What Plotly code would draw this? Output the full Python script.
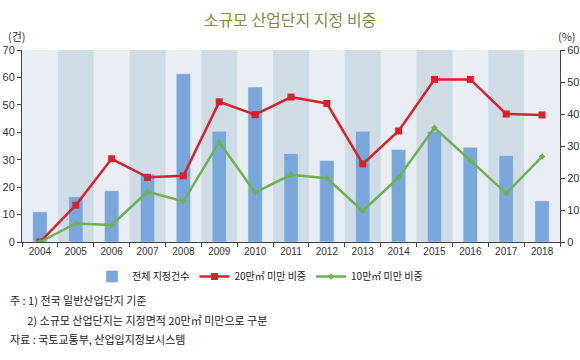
import plotly.graph_objects as go

years = [str(y) for y in range(2004, 2019)]
total_count = [11, 16.5, 18.7, 24.8, 61.3, 40.4, 56.5, 32.3, 29.7, 40.4, 33.7, 40.4, 34.5, 31.5, 15]
share_20 = [0, 11.5, 26, 20.2, 20.7, 43.8, 39.8, 45.3, 43.3, 24.4, 34.7, 50.8, 50.8, 40, 39.7]
share_10 = [0, 5.8, 5.3, 15.7, 12.7, 31.2, 15.5, 21, 19.9, 9.7, 20.2, 35.7, 25.5, 15.2, 26.7]
left_ticks = [0, 10, 20, 30, 40, 50, 60, 70]
right_ticks = [0, 10, 20, 30, 40, 50, 60]

KR = "Noto Sans CJK KR"
NUM = "Liberation Sans"

fig = go.Figure()
fig.add_trace(go.Bar(x=years, y=total_count, name="전체 지정건수", marker_color="#79a7dc",
                     width=0.4, yaxis="y"))
fig.add_trace(go.Scatter(x=years, y=share_20, name="20만㎡ 미만 비중", mode="lines+markers",
                         line=dict(color="#d7222c", width=2.5),
                         marker=dict(symbol="square", size=7, color="#d7222c"), yaxis="y2"))
fig.add_trace(go.Scatter(x=years, y=share_10, name="10만㎡ 미만 비중", mode="lines+markers",
                         line=dict(color="#6db24e", width=2.5),
                         marker=dict(symbol="diamond", size=5, color="#6db24e"), yaxis="y2"))

shapes = []
for i in range(len(years)):
    if i % 2 == 1:
        shapes.append(dict(type="rect", xref="x", yref="paper", x0=i - 0.5, x1=i + 0.5,
                           y0=0, y1=1, fillcolor="#cfdbe5", line_width=0, layer="below"))

PL, PR, PT, PB = 22, 20, 50, 118
PW = 580 - PL - PR
PH = 360 - PT - PB

fig.update_layout(
    width=580, height=360,
    margin=dict(l=PL, r=PR, t=PT, b=PB, autoexpand=False),
    paper_bgcolor="white", plot_bgcolor="#e8eef3",
    shapes=shapes,
    showlegend=True,
    legend=dict(orientation="h", x=(260 - PL) / PW, xanchor="center", y=-(262 - 242) / PH,
                yanchor="top", font=dict(family=KR, size=10, color="#222"), itemwidth=30,
                bgcolor="rgba(0,0,0,0)"),
    title=dict(text="소규모 산업단지 지정 비중", x=0.5, xanchor="center", y=1 - 20 / 360,
               yanchor="middle", font=dict(family=KR, size=16, color="#858a45")),
    font=dict(family=NUM, size=11, color="#333"),
    xaxis=dict(type="category", showgrid=False, showline=True, linecolor="#444", linewidth=1,
               ticks="outside", tickson="boundaries", ticklen=4, tickcolor="#444",
               tickfont=dict(family=NUM, size=10, color="#333"), range=[-0.5, 14.5],
               automargin=False),
    yaxis=dict(range=[0, 70], tickvals=left_ticks, showgrid=False, showline=True,
               linecolor="#444", linewidth=1, ticks="outside", ticklen=4, tickcolor="#444",
               tickfont=dict(family=NUM, size=11, color="#333"), zeroline=False,
               automargin=False),
    yaxis2=dict(range=[0, 60], tickvals=right_ticks, overlaying="y", side="right",
                showgrid=False, showline=True, linecolor="#444", linewidth=1, ticks="outside",
                ticklen=4, tickcolor="#444", tickfont=dict(family=NUM, size=11, color="#333"),
                zeroline=False, automargin=False),
    bargap=0.6,
)

fig.add_annotation(text="(건)", xref="paper", yref="paper", x=-16 / PW, y=1 + 4 / PH,
                   xanchor="left", yanchor="bottom", showarrow=False,
                   font=dict(family=KR, size=11, color="#333"))
fig.add_annotation(text="(%)", xref="paper", yref="paper", x=1 + 18 / PW, y=1 + 4 / PH,
                   xanchor="right", yanchor="bottom", showarrow=False,
                   font=dict(family=KR, size=11, color="#333"))

notes = ["주 : 1) 전국 일반산업단지 기준",
         "       2) 소규모 산업단지는 지정면적 20만㎡ 미만으로 구분",
         "자료 : 국토교통부, 산업입지정보시스템"]
note_y = [300, 320, 339]
for t, yy in zip(notes, note_y):
    fig.add_annotation(text=t, xref="paper", yref="paper", x=-(PL - 8) / PW,
                       y=(360 - PB - yy) / PH, xanchor="left", yanchor="middle",
                       showarrow=False, font=dict(family=KR, size=11, color="#222"))

fig.write_html("out.html", config={"displayModeBar": False},
               post_script="document.body.style.margin='0';document.body.style.overflow='hidden';")
